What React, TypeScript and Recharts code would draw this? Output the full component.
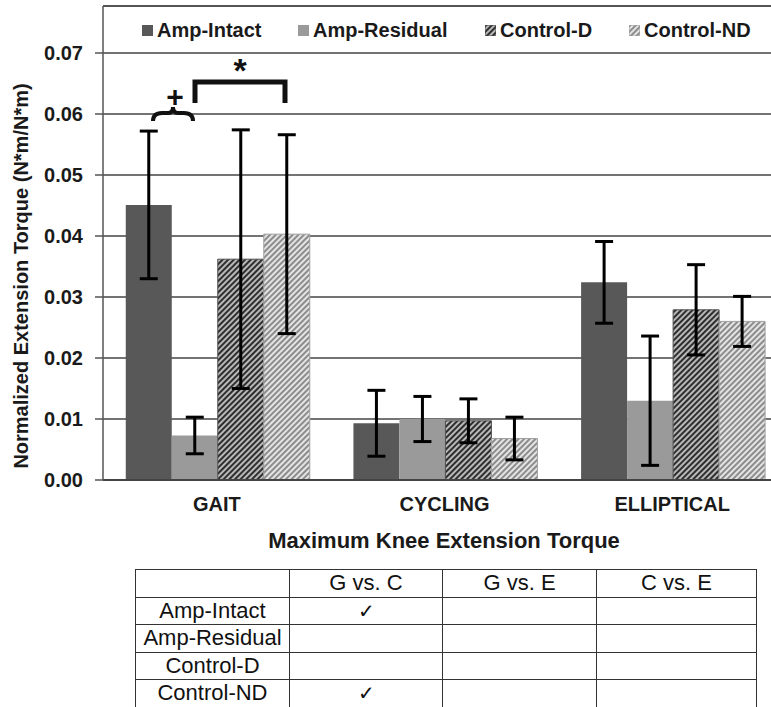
import React from 'react';
import { BarChart, Bar, XAxis, YAxis, CartesianGrid, ErrorBar } from 'recharts';

const categories = ['GAIT', 'CYCLING', 'ELLIPTICAL'];
const ampIntact = [0.0451, 0.0093, 0.0324];
const ampIntactSd = [0.0121, 0.0054, 0.0067];
const ampResidual = [0.0073, 0.01, 0.013];
const ampResidualSd = [0.003, 0.0037, 0.0106];
const controlD = [0.0362, 0.0097, 0.0279];
const controlDSd = [0.0212, 0.0036, 0.0074];
const controlND = [0.0403, 0.0068, 0.026];
const controlNDSd = [0.0163, 0.0035, 0.0041];
const yTicks = [0, 0.01, 0.02, 0.03, 0.04, 0.05, 0.06, 0.07];

const tableCols = ['G vs. C', 'G vs. E', 'C vs. E'];
const tableRows = ['Amp-Intact', 'Amp-Residual', 'Control-D', 'Control-ND'];
const tableChecks = [
    [true, false, false],
    [false, false, false],
    [false, false, false],
    [true, false, false],
];

const data = categories.map((c, i) => ({
    name: c,
    intact: ampIntact[i],
    intactErr: ampIntactSd[i],
    residual: ampResidual[i],
    residualErr: ampResidualSd[i],
    ctrlD: controlD[i],
    ctrlDErr: controlDSd[i],
    ctrlND: controlND[i],
    ctrlNDErr: controlNDSd[i],
}));

const FONT = "'Liberation Sans', Arial, sans-serif";

const series = [
    { key: 'intact', name: 'Amp-Intact', fill: '#585858', stroke: 'none', left: 142 },
    { key: 'residual', name: 'Amp-Residual', fill: '#9a9a9a', stroke: 'none', left: 298 },
    { key: 'ctrlD', name: 'Control-D', fill: 'url(#hatchDark)', stroke: '#505050', left: 485 },
    { key: 'ctrlND', name: 'Control-ND', fill: 'url(#hatchLight)', stroke: '#a0a0a0', left: 629 },
];

const Patterns = () => (
    <svg width={0} height={0} style={{ position: 'absolute' }}>
        <defs>
            <pattern id="hatchDark" width={4} height={4} patternUnits="userSpaceOnUse" patternTransform="rotate(45)">
                <rect width={4} height={4} fill="#b8b8b8" />
                <rect width={2} height={4} fill="#2e2e2e" />
            </pattern>
            <pattern id="hatchLight" width={4} height={4} patternUnits="userSpaceOnUse" patternTransform="rotate(45)">
                <rect width={4} height={4} fill="#e4e4e4" />
                <rect width={2} height={4} fill="#8c8c8c" />
            </pattern>
        </defs>
    </svg>
);

const LegendBox = () => (
    <div style={{ position: 'absolute', top: 17, left: 0, width: 771, height: 26 }}>
        {series.map((s) => (
            <div key={s.key} style={{ position: 'absolute', left: s.left, top: 0, display: 'flex', alignItems: 'center', height: 26 }}>
                <svg width={11} height={11} style={{ marginRight: 4 }}>
                    <rect x={0} y={0} width={11} height={11} fill={s.fill} stroke={s.stroke === 'none' ? 'none' : s.stroke} />
                </svg>
                <span style={{ fontFamily: FONT, fontWeight: 'bold', fontSize: 20, color: '#1a1a1a', whiteSpace: 'nowrap' }}>{s.name}</span>
            </div>
        ))}
    </div>
);

const cellStyle: React.CSSProperties = {
    border: '1.5px solid #333',
    padding: 0,
    height: 26.5,
    lineHeight: '26px',
    textAlign: 'center',
    fontFamily: FONT,
    fontSize: 22,
    color: '#111',
    whiteSpace: 'nowrap',
};

export default function App() {
    return (
        <div style={{ position: 'absolute', left: 0, top: 0, width: 771, height: 707, overflow: 'hidden', background: '#fff' }}>
            <Patterns />
            <BarChart
                width={800}
                height={530}
                data={data}
                margin={{ top: 53, right: 14, left: 0, bottom: 0 }}
                barCategoryGap="10%"
                barGap={0}
            >
                <CartesianGrid vertical={false} stroke="#444" strokeWidth={1.5} />
                <XAxis
                    dataKey="name"
                    height={50}
                    tickLine={false}
                    tickSize={0}
                    tickMargin={17}
                    axisLine={{ stroke: '#444', strokeWidth: 2 }}
                    tick={{ fontFamily: FONT, fontWeight: 'bold', fontSize: 20, fill: '#1a1a1a' }}
                />
                <YAxis
                    width={103}
                    domain={[0, 0.07]}
                    ticks={yTicks}
                    interval={0}
                    tickSize={8}
                    tickMargin={12}
                    tickFormatter={(v: number) => v.toFixed(2)}
                    axisLine={{ stroke: '#555', strokeWidth: 1.5 }}
                    tickLine={{ stroke: '#555', strokeWidth: 1.5 }}
                    tick={{ fontFamily: FONT, fontWeight: 'bold', fontSize: 20, fill: '#1a1a1a' }}
                />
                {series.map((s) => (
                    <Bar key={s.key} dataKey={s.key} name={s.name} fill={s.fill} stroke={s.stroke} strokeWidth={1} isAnimationActive={false}>
                        <ErrorBar dataKey={`${s.key}Err`} width={9} stroke="#000" strokeWidth={3} direction="y" />
                    </Bar>
                ))}
            </BarChart>
            <svg width={771} height={707} style={{ position: 'absolute', left: 0, top: 0, pointerEvents: 'none' }}>
                {/* plot frame */}
                <line x1={103} y1={6} x2={771} y2={6} stroke="#555" strokeWidth={2} />
                <line x1={103} y1={6} x2={103} y2={53} stroke="#555" strokeWidth={1.5} />
                {/* significance marks */}
                <text x={175} y={107} textAnchor="middle" fontFamily={FONT} fontWeight="bold" fontSize={30} fill="#111">+</text>
                <path d="M153,121 Q153,113 162,113 L168,113 Q173,113 173,107 Q173,113 178,113 L184,113 Q193,113 193,121" fill="none" stroke="#111" strokeWidth={4} />
                <path d="M195,103 L195,82 L285,82 L285,103" fill="none" stroke="#111" strokeWidth={5} />
                <text x={240} y={82} textAnchor="middle" fontFamily={FONT} fontWeight="bold" fontSize={34} fill="#111">*</text>
                {/* axis titles */}
                <text transform="translate(28,276) rotate(-90)" textAnchor="middle" fontFamily={FONT} fontWeight="bold" fontSize={20} fill="#1a1a1a">
                    Normalized Extension Torque (N*m/N*m)
                </text>
                <text x={444} y={548} textAnchor="middle" fontFamily={FONT} fontWeight="bold" fontSize={22} fill="#1a1a1a">
                    Maximum Knee Extension Torque
                </text>
            </svg>
            <LegendBox />
            <table style={{ position: 'absolute', left: 135, top: 569, borderCollapse: 'collapse', tableLayout: 'fixed' }}>
                <colgroup>
                    <col style={{ width: 154 }} />
                    <col style={{ width: 153 }} />
                    <col style={{ width: 154 }} />
                    <col style={{ width: 160 }} />
                </colgroup>
                <tbody>
                    <tr>
                        <td style={cellStyle}></td>
                        {tableCols.map((c) => (
                            <td key={c} style={cellStyle}>{c}</td>
                        ))}
                    </tr>
                    {tableRows.map((r, i) => (
                        <tr key={r}>
                            <td style={cellStyle}>{r}</td>
                            {tableChecks[i].map((chk, j) => (
                                <td key={j} style={{ ...cellStyle, fontSize: 20 }}>{chk ? '✓' : ''}</td>
                            ))}
                        </tr>
                    ))}
                </tbody>
            </table>
        </div>
    );
}
